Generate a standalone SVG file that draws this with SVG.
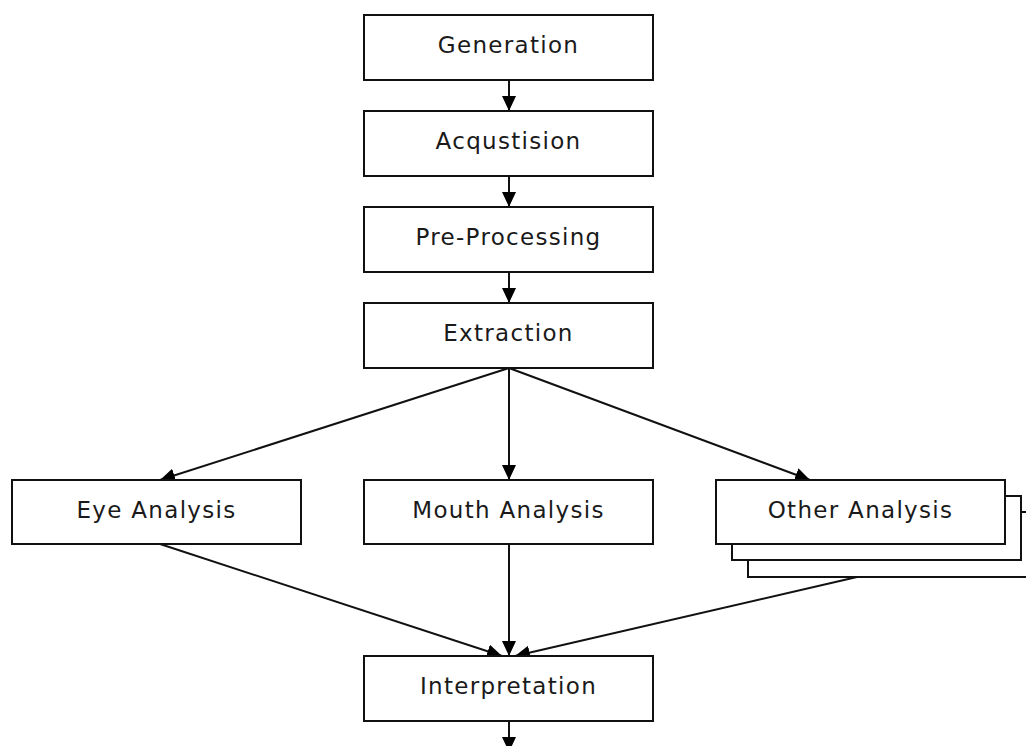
<svg xmlns="http://www.w3.org/2000/svg" width="1026" height="746" viewBox="0 0 1026 746">
  <defs>
    <style>
      .box { fill: #ffffff; stroke: #111111; stroke-width: 2; }
      .label { font-family: "DejaVu Sans", Verdana, sans-serif; font-size: 23px; letter-spacing: 1.3px; fill: #1a1a1a; text-anchor: middle; dominant-baseline: central; }
      .edge { fill: none; stroke: #111111; stroke-width: 2; marker-end: url(#arrow); }
    </style>
    <marker id="arrow" viewBox="0 0 15 14" refX="15" refY="7" markerWidth="15" markerHeight="14" markerUnits="userSpaceOnUse" orient="auto">
      <path d="M0,0 L15,7 L0,14 Z" fill="#000000"/>
    </marker>
  </defs>

  <g id="connectors">
    <line class="edge" x1="509" y1="80" x2="509" y2="111"/>
    <line class="edge" x1="509" y1="176" x2="509" y2="207"/>
    <line class="edge" x1="509" y1="272" x2="509" y2="303"/>
    <line class="edge" x1="509" y1="368" x2="160" y2="480"/>
    <line class="edge" x1="509" y1="368" x2="509" y2="480"/>
    <line class="edge" x1="509" y1="368" x2="810" y2="480"/>
    <line class="edge" x1="160" y1="544" x2="502" y2="656"/>
    <line class="edge" x1="509" y1="544" x2="509" y2="656"/>
    <line class="edge" x1="857" y1="577" x2="515" y2="656"/>
    <line class="edge" x1="509" y1="721" x2="509" y2="752"/>
  </g>

  <g id="generation">
    <rect class="box" x="364" y="15" width="289" height="65"/>
    <text class="label" x="508.5" y="45">Generation</text>
  </g>
  <g id="acquisition">
    <rect class="box" x="364" y="111" width="289" height="65"/>
    <text class="label" x="508.5" y="141">Acqustision</text>
  </g>
  <g id="pre-processing">
    <rect class="box" x="364" y="207" width="289" height="65"/>
    <text class="label" x="508.5" y="237">Pre-Processing</text>
  </g>
  <g id="extraction">
    <rect class="box" x="364" y="303" width="289" height="65"/>
    <text class="label" x="508.5" y="333">Extraction</text>
  </g>
  <g id="eye-analysis">
    <rect class="box" x="12" y="480" width="289" height="64"/>
    <text class="label" x="156.5" y="510">Eye Analysis</text>
  </g>
  <g id="mouth-analysis">
    <rect class="box" x="364" y="480" width="289" height="64"/>
    <text class="label" x="508.5" y="510">Mouth Analysis</text>
  </g>
  <g id="other-analysis">
    <rect class="box" x="748" y="512" width="289" height="65"/>
    <rect class="box" x="732" y="496" width="289" height="64"/>
    <rect class="box" x="716" y="480" width="289" height="64"/>
    <text class="label" x="860.5" y="510">Other Analysis</text>
  </g>
  <g id="interpretation">
    <rect class="box" x="364" y="656" width="289" height="65"/>
    <text class="label" x="508.5" y="686">Interpretation</text>
  </g>
</svg>
